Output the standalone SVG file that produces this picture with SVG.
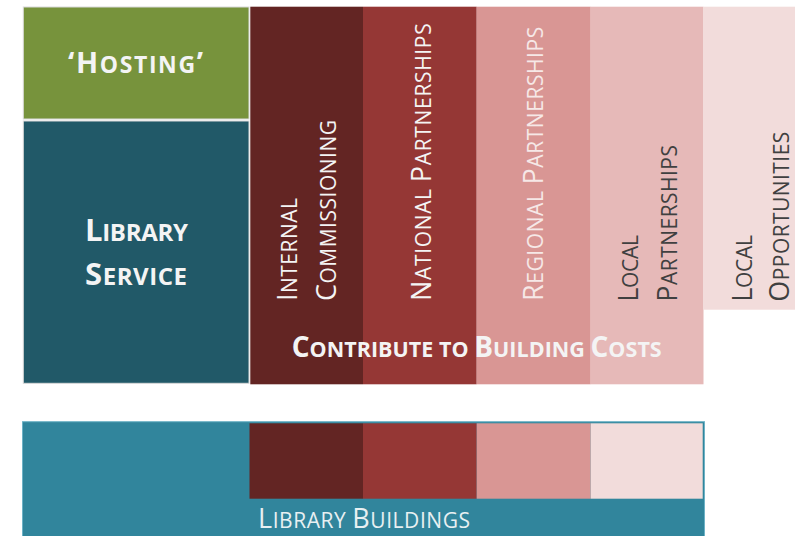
<svg xmlns="http://www.w3.org/2000/svg" width="795" height="536" viewBox="0 0 795 536">
<style>
text{font-family:"Open Sans","Liberation Sans",sans-serif}
.b{font-weight:bold}
.big{font-size:27px}
.sm{font-size:21px}
.w{fill:#F4F4F4}
.d{fill:#404040}
.p{fill:#F6E8E7}
</style>
<rect width="795" height="536" fill="#FFFFFF"/>
<g id="hosting">
<rect x="23.3" y="7" width="225.7" height="112" fill="#77933C" stroke="#DADADA" stroke-width="1"/>
<text x="68" y="73.3" class="b w" font-size="29" textLength="135" lengthAdjust="spacing">‘H<tspan font-size="23">OSTING</tspan>’</text>
</g>
<g id="library-service">
<rect x="23.3" y="121" width="225.7" height="262.3" fill="#215968" stroke="#DADADA" stroke-width="1"/>
<text x="85" y="241" class="b w" font-size="31" textLength="103" lengthAdjust="spacing">L<tspan font-size="24">IBRARY</tspan></text>
<text x="85" y="285" class="b w" font-size="31" textLength="102" lengthAdjust="spacing">S<tspan font-size="24">ERVICE</tspan></text>
</g>
<g id="internal-commissioning">
<rect x="250.3" y="6.7" width="112.7" height="377.6" fill="#632523"/>
<text transform="translate(297,301) rotate(-90)" class="big w" textLength="103" lengthAdjust="spacing">I<tspan class="sm">NTERNAL</tspan></text>
<text transform="translate(335.5,301) rotate(-90)" class="big w" textLength="181" lengthAdjust="spacing">C<tspan class="sm">OMMISSIONING</tspan></text>
</g>
<g id="national-partnerships">
<rect x="363" y="6.7" width="113.7" height="377.6" fill="#953735"/>
<text transform="translate(431,301) rotate(-90)" class="big w" textLength="277.7" lengthAdjust="spacing">N<tspan class="sm">ATIONAL </tspan>P<tspan class="sm">ARTNERSHIPS</tspan></text>
</g>
<g id="regional-partnerships">
<rect x="476.7" y="6.7" width="114" height="377.6" fill="#D99694"/>
<text transform="translate(543.3,301) rotate(-90)" class="big p" textLength="274.3" lengthAdjust="spacing">R<tspan class="sm">EGIONAL </tspan>P<tspan class="sm">ARTNERSHIPS</tspan></text>
</g>
<g id="local-partnerships">
<rect x="590.7" y="6.7" width="112.8" height="377.6" fill="#E6B9B8"/>
<text transform="translate(638.3,301.7) rotate(-90)" class="big d" textLength="66.7" lengthAdjust="spacing">L<tspan class="sm">OCAL</tspan></text>
<text transform="translate(676.5,301.7) rotate(-90)" class="big d" textLength="156.7" lengthAdjust="spacing">P<tspan class="sm">ARTNERSHIPS</tspan></text>
</g>
<g id="local-opportunities">
<rect x="703.5" y="6.7" width="91.5" height="303" fill="#F2DCDB"/>
<text transform="translate(751.7,301.7) rotate(-90)" class="big d" textLength="66.7" lengthAdjust="spacing">L<tspan class="sm">OCAL</tspan></text>
<text transform="translate(789,301.7) rotate(-90)" class="big d" textLength="170" lengthAdjust="spacing">O<tspan class="sm">PPORTUNITIES</tspan></text>
</g>
<g id="contribute-label">
<text x="291.7" y="357.3" class="b w" font-size="28" textLength="370" lengthAdjust="spacing">C<tspan font-size="21.5">ONTRIBUTE TO </tspan>B<tspan font-size="21.5">UILDING </tspan>C<tspan font-size="21.5">OSTS</tspan></text>
</g>
<g id="library-buildings">
<rect x="22.5" y="421.7" width="682" height="120" fill="#31859C" stroke="#6DB2C6" stroke-width="1"/>
<rect x="249.5" y="423.3" width="113.5" height="75.4" fill="#632523"/>
<rect x="363" y="423.3" width="113.7" height="75.4" fill="#953735"/>
<rect x="476.7" y="423.3" width="114" height="75.4" fill="#D99694"/>
<rect x="590.7" y="423.3" width="112" height="75.4" fill="#F2DCDB"/>
<text x="258" y="528.3" font-size="27" fill="#E8F0F2" textLength="212" lengthAdjust="spacing">L<tspan font-size="21">IBRARY </tspan>B<tspan font-size="21">UILDINGS</tspan></text>
</g>
<g id="connectors"/>
</svg>
